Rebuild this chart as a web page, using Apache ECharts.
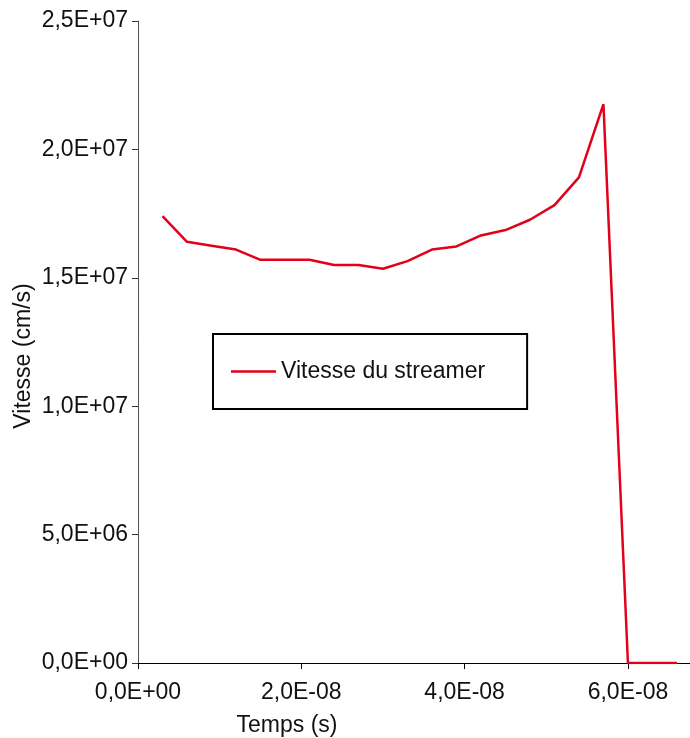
<!DOCTYPE html>
<html>
<head>
<meta charset="utf-8">
<script src="https://cdn.jsdelivr.net/npm/echarts@6/dist/echarts.min.js"></script>
<style>
  html, body { margin: 0; padding: 0; background: #fff; }
  #chart { width: 690px; height: 738px; }
</style>
</head>
<body>
<div id="chart"></div>
<script>
// temps (s) et vitesse (cm/s)
const temps = [3e-9, 6e-9, 9e-9, 1.2e-8, 1.5e-8, 1.8e-8, 2.1e-8, 2.4e-8, 2.7e-8, 3.0e-8, 3.3e-8,
  3.6e-8, 3.9e-8, 4.2e-8, 4.5e-8, 4.8e-8, 5.1e-8, 5.4e-8, 5.7e-8, 6.0e-8, 6.3e-8, 6.6e-8]
const vitesse = [1.74e7, 1.64e7, 1.625e7, 1.61e7, 1.57e7, 1.57e7, 1.57e7, 1.55e7, 1.55e7, 1.535e7, 1.565e7,
  1.61e7, 1.622e7, 1.665e7, 1.686e7, 1.726e7, 1.783e7, 1.891e7, 2.176e7, 0, 0, 0]
const xTicks = [0, 2e-8, 4e-8, 6e-8]
const yTicks = [0, 5e6, 1e7, 1.5e7, 2e7, 2.5e7]

const FONT = 'Liberation Sans, Arial, Helvetica, sans-serif'

// format type Excel : 2,5E+07
function sci(v) {
  if (v === 0) return '0,0E+00'
  let e = Math.floor(Math.log10(Math.abs(v)) + 1e-9)
  let m = v / Math.pow(10, e)
  let s = e < 0 ? '-' : '+'
  return m.toFixed(1).replace('.', ',') + 'E' + s + String(Math.abs(e)).padStart(2, '0')
}

const data = temps.map((t, i) => [t, vitesse[i]])

const chart = echarts.init(document.getElementById('chart'))
chart.setOption({
  animation: false,
  grid: { left: 138, top: 21, right: 0, bottom: 75 },
  legend: {
    left: 213, top: 334,
    orient: 'vertical',
    padding: [26, 42, 26, 18],
    borderColor: '#000', borderWidth: 2,
    icon: 'rect',
    itemWidth: 45, itemHeight: 2.5, itemGap: 0,
    textStyle: { fontFamily: FONT, fontSize: 23, color: '#111' },
    data: ['Vitesse du streamer']
  },
  xAxis: {
    type: 'value',
    min: 0, max: 6.76e-8, interval: xTicks[1] - xTicks[0],
    axisLine: { lineStyle: { color: '#000', width: 1 } },
    axisTick: { show: true, length: 6, lineStyle: { color: '#000' } },
    splitLine: { show: false },
    axisLabel: {
      margin: 18, showMaxLabel: false,
      fontFamily: FONT, fontSize: 23, color: '#111',
      formatter: v => xTicks.some(t => Math.abs(t - v) < 1e-12) ? sci(v) : ''
    }
  },
  yAxis: {
    type: 'value',
    min: yTicks[0], max: yTicks[yTicks.length - 1], interval: yTicks[1] - yTicks[0],
    axisLine: { show: true, lineStyle: { color: '#555', width: 1 } },
    axisTick: { show: true, length: 6, lineStyle: { color: '#333' } },
    splitLine: { show: false },
    axisLabel: { margin: 10, fontFamily: FONT, fontSize: 23, color: '#111', formatter: sci }
  },
  graphic: [
    {
      type: 'text', x: 287, y: 726,
      style: { text: 'Temps (s)', font: '23px ' + FONT, fill: '#111', align: 'center', verticalAlign: 'middle' }
    },
    {
      type: 'text', x: 24, y: 356, rotation: Math.PI / 2,
      style: { text: 'Vitesse (cm/s)', font: '23px ' + FONT, fill: '#111', align: 'center', verticalAlign: 'middle' }
    }
  ],
  series: [{
    name: 'Vitesse du streamer',
    type: 'line',
    symbol: 'none',
    data: data,
    lineStyle: { color: '#e3001b', width: 2.5 },
    itemStyle: { color: '#e3001b' }
  }]
})
</script>
</body>
</html>
